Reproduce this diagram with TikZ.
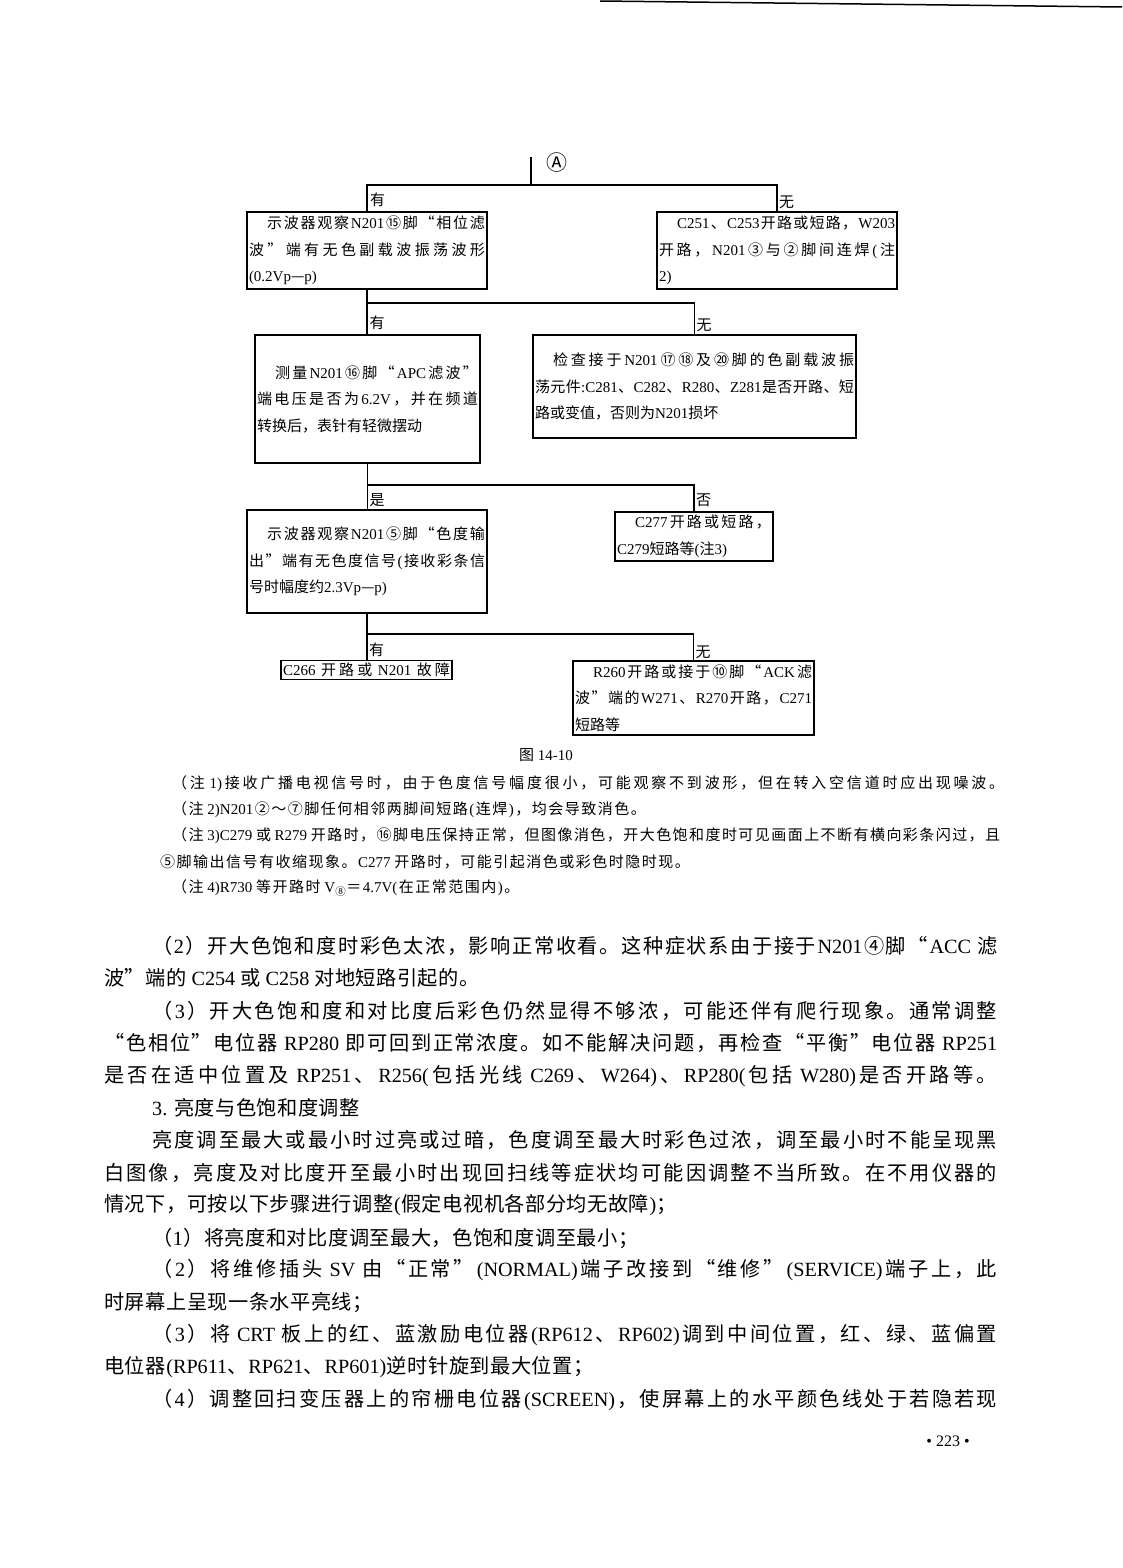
\documentclass[tikz,border=0pt]{standalone}
\usepackage{fontspec}
\setmainfont{Liberation Serif}
\newfontfamily\cjkfont{Noto Sans CJK SC}
\newskip\cjkgap
\cjkgap=0pt plus 2pt
\chardef\cjkcls=7
\makeatletter
\def\setcjkrange#1#2{%
  \count@=#1\relax
  \loop\ifnum\count@<#2\relax
    \XeTeXcharclass\count@=\cjkcls
    \advance\count@\@ne
  \repeat}
\setcjkrange{"2460}{"2500}
\setcjkrange{"3000}{"3040}
\setcjkrange{"4E00}{"A000}
\setcjkrange{"FF00}{"FFF0}
\XeTeXcharclass"201C=\cjkcls
\XeTeXcharclass"201D=\cjkcls
\XeTeXcharclass"2014=\cjkcls
\makeatother
\XeTeXinterchartoks 0 \cjkcls = {\hskip\cjkgap\cjkfont}
\XeTeXinterchartoks 4095 \cjkcls = {\cjkfont}
\XeTeXinterchartoks \cjkcls 0 = {\hskip\cjkgap\rmfamily}
\XeTeXinterchartoks \cjkcls 4095 = {\rmfamily}
\XeTeXinterchartoks \cjkcls \cjkcls = {\hskip\cjkgap}
\XeTeXinterchartokenstate=1
\newcommand\jline[2]{\hbox to #1pt{#2}}
\newcommand\rline[2]{\hbox to #1pt{#2\hfil}}
\newcommand\ind[1]{\hskip#1pt\relax}
\newcommand\boxfont{\fontsize{15}{26.5}\selectfont\cjkgap=0pt plus 3pt minus 0.5pt\relax}
\newcommand\bodyfont{\fontsize{20.2}{32}\selectfont\cjkgap=0.5pt plus 3pt minus 0.5pt\relax}
\newcommand\notefont{\fontsize{15}{20}\selectfont\cjkgap=1.5pt plus 3pt minus 1pt\relax}
\tikzset{
  box/.style={draw, line width=1.4pt, inner xsep=2pt, inner ysep=0pt, align=left, font=\boxfont},
  conn/.style={line width=1.4pt},
  lab/.style={anchor=west, inner sep=0pt, font=\boxfont},
  bodyline/.style={anchor=west, inner sep=0pt, font=\bodyfont},
  noteline/.style={anchor=west, inner sep=0pt, font=\notefont}
}
\begin{document}
\begin{tikzpicture}[x=1pt,y=-1pt]
\fill[white] (0,0) rectangle (1122,1568);
\useasboundingbox (0,0) rectangle (1122,1568);
\draw[line width=1.5pt] (600,1) -- (1122,7);

% flowchart
\coordinate (atop) at (531,157);
\node[inner sep=0pt, font={\fontsize{21}{21}\selectfont}] (A) at (557,163) {Ⓐ};
\coordinate (j1) at (531,185);

\node[box, minimum width=240, minimum height=77] (b1) at (367,250.5)
 {\jline{236}{\ind{18}示波器观察N201⑮脚“相位滤}\\
  \jline{236}{波”端有无色副载波振荡波形}\\
  \rline{236}{(0.2Vp—p)}};
\node[box, minimum width=240, minimum height=77] (b2) at (777,250.5)
 {\jline{236}{\ind{18}C251、C253开路或短路，W203}\\
  \jline{236}{开路，N201③与②脚间连焊(注}\\
  \rline{236}{2)}};
\node[box, minimum width=225, minimum height=128] (b3) at (367.5,399)
 {\jline{221}{\ind{18}测量N201⑯脚“APC滤波”}\\
  \jline{221}{端电压是否为6.2V，并在频道}\\
  \rline{221}{转换后，表针有轻微摆动}};
\node[box, minimum width=323, minimum height=103] (b4) at (694.5,386.5)
 {\jline{319}{\ind{18}检查接于N201⑰⑱及⑳脚的色副载波振}\\
  \jline{319}{荡元件:C281、C282、R280、Z281是否开路、短}\\
  \rline{319}{路或变值，否则为N201损坏}};
\node[box, minimum width=240, minimum height=103] (b5) at (367,561.5)
 {\jline{236}{\ind{18}示波器观察N201⑤脚“色度输}\\
  \jline{236}{出”端有无色度信号(接收彩条信}\\
  \rline{236}{号时幅度约2.3Vp—p)}};
\node[box, minimum width=158, minimum height=49] (b6) at (694,536.5)
 {\jline{154}{\ind{18}C277开路或短路，}\\
  \rline{154}{C279短路等(注3)}};
\node[box, minimum width=171, minimum height=19] (b7) at (366.5,670)
 {\jline{167}{C266 开路或 N201 故障}};
\node[box, minimum width=241, minimum height=74] (b8) at (693.5,698)
 {\jline{237}{\ind{18}R260开路或接于⑩脚“ACK滤}\\
  \jline{237}{波”端的W271、R270开路，C271}\\
  \rline{237}{短路等}};

\draw[conn] (atop) -- (j1);
\draw[conn] (b1.north) |- (j1) -| (b2.north);
\coordinate (j2) at (367,303);
\draw[conn] (b1.south) -- (b1.south |- b3.north);
\draw[conn] (j2) -| (b4.north);
\coordinate (j3) at (367.5,485);
\draw[conn] (b3.south) -- (b3.south |- b5.north);
\draw[conn] (j3) -| (b6.north);
\coordinate (j4) at (367,634);
\draw[conn] (b5.south) -- (b5.south |- b7.north);
\draw[conn] (j4) -| (b8.north);

\node[lab] (l1a) at (370,200) {有};
\node[lab] (l1b) at (779,202) {无};
\node[lab] (l2a) at (369.5,323) {有};
\node[lab] (l2b) at (696.5,325) {无};
\node[lab] (l3a) at (369.5,500) {是};
\node[lab] (l3b) at (696,500) {否};
\node[lab] (l4a) at (369,650) {有};
\node[lab] (l4b) at (695.5,652) {无};

\node[inner sep=0pt, font={\fontsize{15}{15}\selectfont}] (cap) at (546,755) {图 14-10};

% notes
\node[noteline] (n1) at (172,784) {\jline{832}{（注 1)接收广播电视信号时，由于色度信号幅度很小，可能观察不到波形，但在转入空信道时应出现噪波。}};
\node[noteline] (n2) at (172,810) {（注 2)N201②～⑦脚任何相邻两脚间短路(连焊)，均会导致消色。};
\node[noteline] (n3) at (172,836) {\jline{828}{（注 3)C279 或 R279 开路时，⑯脚电压保持正常，但图像消色，开大色饱和度时可见画面上不断有横向彩条闪过，且}};
\node[noteline] (n4) at (160,862) {⑤脚输出信号有收缩现象。C277 开路时，可能引起消色或彩色时隐时现。};
\node[noteline] (n5) at (172,888) {（注 4)R730 等开路时 V\textsubscript{⑧}＝4.7V(在正常范围内)。};

% body text
\node[bodyline] (p1) at (152,946) {\jline{845}{（2）开大色饱和度时彩色太浓，影响正常收看。这种症状系由于接于N201④脚“ACC 滤}};
\node[bodyline] (p2) at (104,978) {波”端的 C254 或 C258 对地短路引起的。};
\node[bodyline] (p3) at (152,1011) {\jline{845}{（3）开大色饱和度和对比度后彩色仍然显得不够浓，可能还伴有爬行现象。通常调整}};
\node[bodyline] (p4) at (104,1043) {\jline{893}{“色相位”电位器 RP280 即可回到正常浓度。如不能解决问题，再检查“平衡”电位器 RP251}};
\node[bodyline] (p5) at (104,1076) {\jline{893}{是否在适中位置及 RP251、R256(包括光线 C269、W264)、RP280(包括 W280)是否开路等。}};
\node[bodyline] (p6) at (152,1108) {3. 亮度与色饱和度调整};
\node[bodyline] (p7) at (152,1140) {\jline{845}{亮度调至最大或最小时过亮或过暗，色度调至最大时彩色过浓，调至最小时不能呈现黑}};
\node[bodyline] (p8) at (104,1173) {\jline{893}{白图像，亮度及对比度开至最小时出现回扫线等症状均可能因调整不当所致。在不用仪器的}};
\node[bodyline] (p9) at (104,1205) {情况下，可按以下步骤进行调整(假定电视机各部分均无故障)；};
\node[bodyline] (p10) at (152,1238) {（1）将亮度和对比度调至最大，色饱和度调至最小；};
\node[bodyline] (p11) at (152,1270) {\jline{845}{（2）将维修插头 SV 由“正常”(NORMAL)端子改接到“维修”(SERVICE)端子上，此}};
\node[bodyline] (p12) at (104,1303) {时屏幕上呈现一条水平亮线；};
\node[bodyline] (p13) at (152,1335) {\jline{845}{（3）将 CRT 板上的红、蓝激励电位器(RP612、RP602)调到中间位置，红、绿、蓝偏置}};
\node[bodyline] (p14) at (104,1367) {电位器(RP611、RP621、RP601)逆时针旋到最大位置；};
\node[bodyline] (p15) at (152,1400) {\jline{845}{（4）调整回扫变压器上的帘栅电位器(SCREEN)，使屏幕上的水平颜色线处于若隐若现}};

\node[inner sep=0pt, font={\fontsize{16}{16}\selectfont}] (pg) at (948,1441) {• 223 •};
\end{tikzpicture}
\end{document}
